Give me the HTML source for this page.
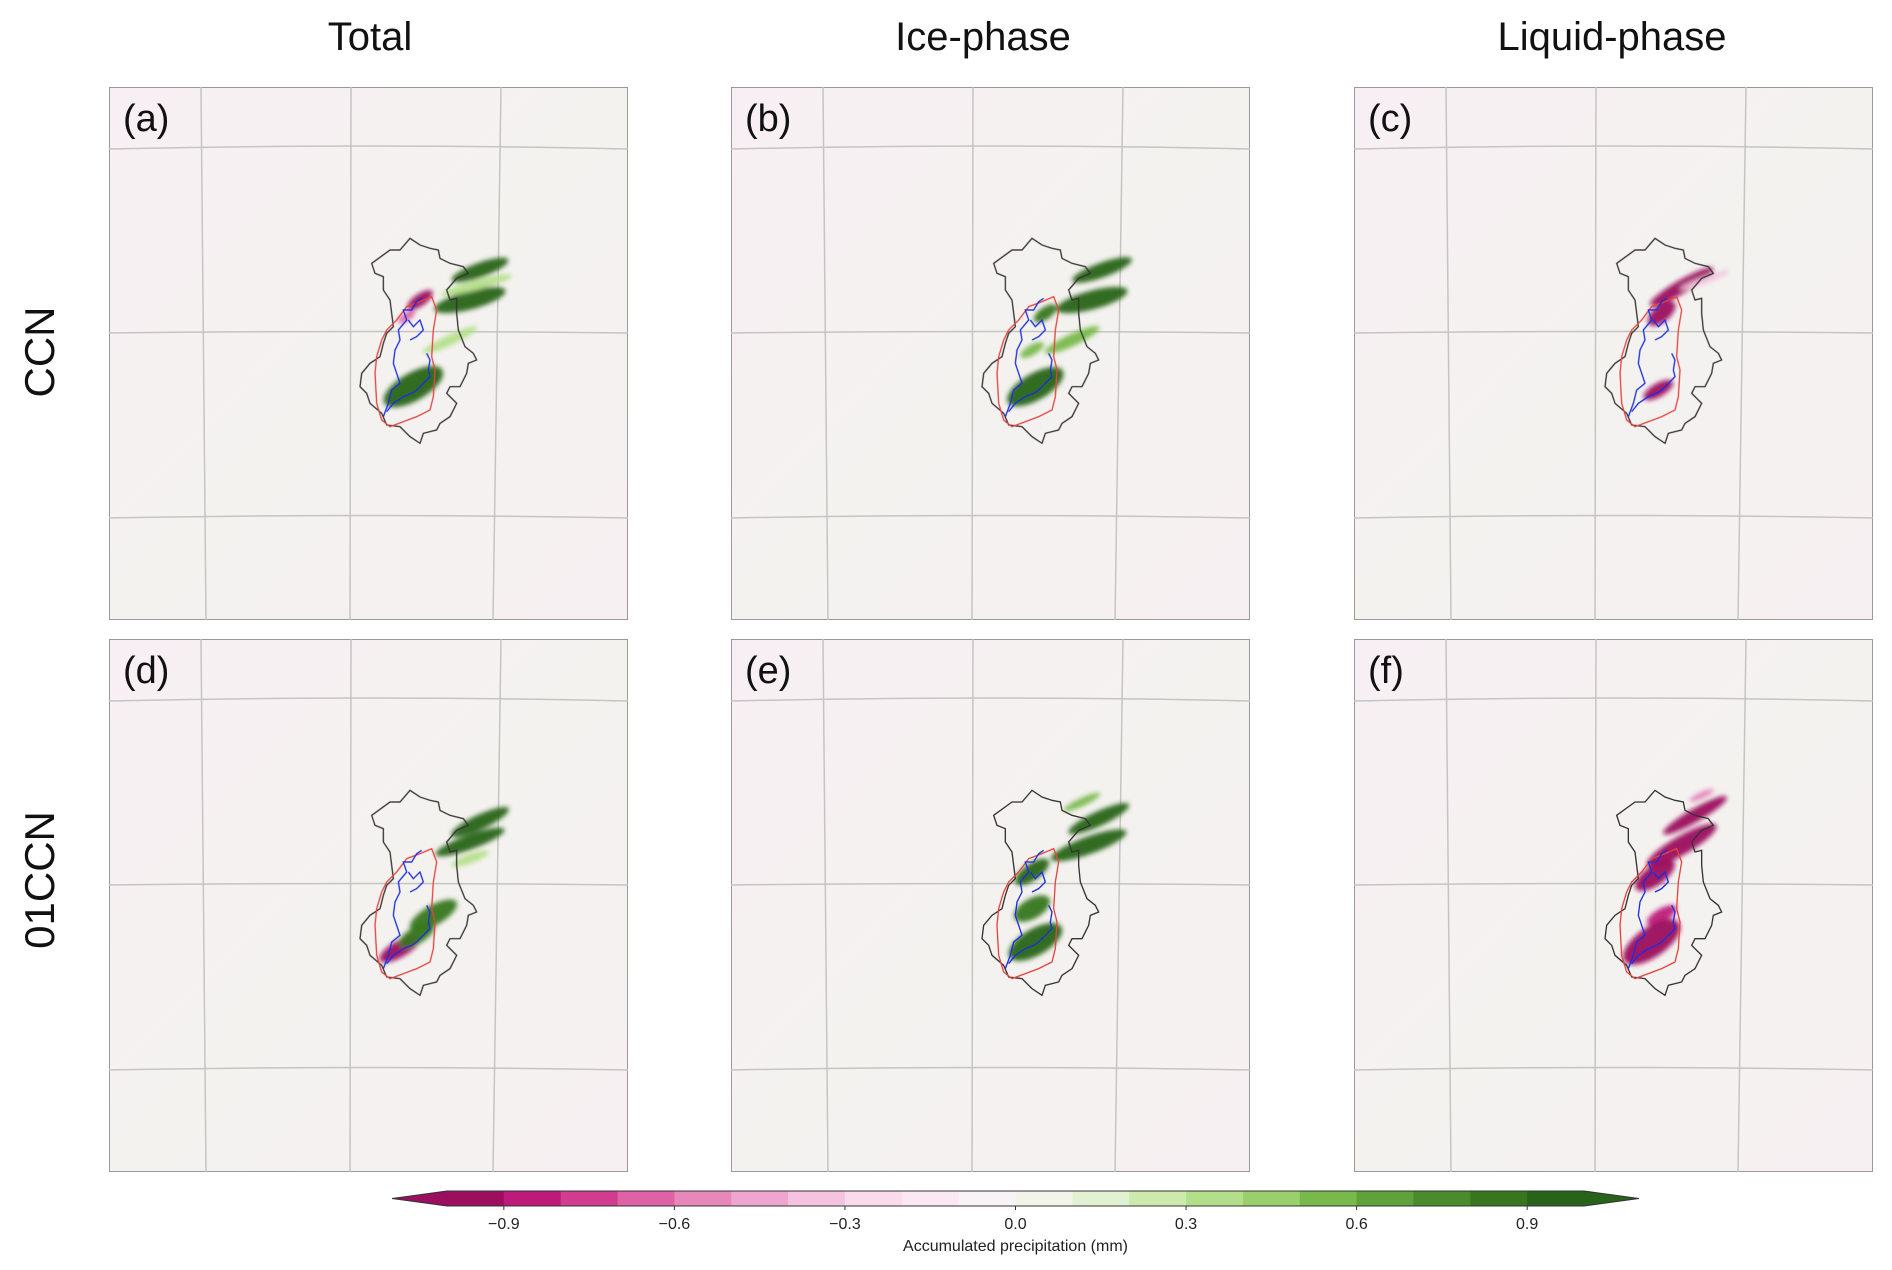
<!DOCTYPE html>
<html><head><meta charset="utf-8"><style>
body{margin:0;background:#fff;width:1892px;height:1270px;position:relative;overflow:hidden;font-family:"Liberation Sans",sans-serif}
.t{position:absolute;font-size:40px;color:#111;transform:translateX(-50%)}
.r{position:absolute;font-size:42px;color:#111;transform:translate(-50%,-50%) rotate(-90deg)}
svg{position:absolute}
</style></head><body>
<div class="t" style="left:370px;top:15px">Total</div>
<div class="t" style="left:983px;top:15px">Ice-phase</div>
<div class="t" style="left:1612px;top:15px">Liquid-phase</div>
<div class="r" style="left:40px;top:352px">CCN</div>
<div class="r" style="left:40px;top:880px">01CCN</div>
<div id="panels"></div>
<svg id="cb" width="1892" height="1270" style="left:0;top:0"></svg>
<script>
const colLefts=[109,731,1354], rowTops=[87,639];
const panelLabels=['(a)','(b)','(c)','(d)','(e)','(f)'];
const outline=[[65,100],[120,60],[150,60],[180,25],[210,45],[240,55],[265,60],[270,85],[300,100],[340,110],[355,130],[320,145],[290,180],[300,210],[320,205],[320,250],[325,300],[345,350],[370,370],[380,390],[355,400],[350,430],[330,470],[300,470],[290,490],[320,520],[300,560],[270,580],[260,600],[220,610],[210,640],[180,620],[150,590],[110,585],[95,550],[60,520],[50,490],[30,470],[35,430],[60,400],[90,380],[100,340],[110,310],[130,290],[125,250],[120,210],[100,180],[100,140],[75,130]];
const lake=[[110,300],[140,270],[170,230],[210,215],[245,200],[260,240],[250,300],[245,380],[255,420],[250,500],[240,540],[200,560],[120,590],[95,570],[80,520],[75,430],[80,380],[95,330]];
const river1=[[100,560],[115,520],[125,480],[150,460],[140,430],[130,400],[135,360],[150,330],[145,300],[170,270],[160,240],[185,240],[200,215],[215,205]];
const river2=[[230,370],[240,390],[235,420],[240,440],[220,460],[200,480],[185,490],[160,500],[130,520],[110,545]];
const river3=[[175,270],[190,290],[210,270],[220,300],[200,320],[180,330]];
// blobs: [cx,cy,rx,ry,rot,value] in zoom coords; value in mm
const blobsA=[[390,120,90,22,-20,1],[360,210,110,28,-15,1],[190,470,100,42,-30,1],[380,165,110,15,-15,0.3],[300,330,90,15,-25,0.3],[210,210,45,18,-35,-1],[170,260,30,12,-35,-0.7]];
const blobsB=[[390,120,95,22,-20,1],[360,210,110,28,-15,1],[190,470,95,40,-30,1],[300,330,90,18,-25,0.5],[220,250,40,18,-35,0.9],[180,360,40,15,-30,0.5]];
const blobsC=[[260,170,110,20,-30,-1],[200,250,50,25,-40,-0.9],[190,480,50,20,-30,-1],[330,150,80,10,-20,-0.3]];
const blobsD=[[390,120,95,22,-25,1],[360,180,110,22,-20,1],[250,400,80,30,-30,0.8],[150,500,70,25,-30,-1],[200,460,60,25,-30,0.8],[360,230,60,14,-20,0.4]];
const blobsE=[[380,110,100,22,-25,1],[350,190,120,26,-20,1],[180,270,60,25,-35,1],[190,480,90,40,-30,1],[180,380,60,30,-30,0.9],[330,60,60,12,-25,0.5]];
const blobsF=[[300,100,110,20,-30,-1],[260,190,120,28,-30,-1],[180,280,70,30,-35,-1],[200,400,50,20,-30,-0.8],[170,480,100,45,-35,-1],[320,40,40,10,-25,-0.6]];
const allBlobs=[blobsA,blobsB,blobsC,blobsD,blobsE,blobsF];
const cbVals=[-0.9,-0.6,-0.3,0.0,0.3,0.6,0.9];
const cbColors=['#9c0f5e','#bd1a7b','#d13c8f','#de62a5','#e787ba','#eea5cf','#f5c3df','#f9dbeb','#fbe8f2','#f8f3f6','#f2f4ec','#e3f1d3','#cde9ad','#b4df8a','#9bcf6e','#79b94c','#5fa13a','#4a8c2c','#37761f','#276419'];
function colorOf(v){let i=Math.floor((v+1)/0.1);i=Math.max(0,Math.min(19,i));return cbColors[i];}
function pts(a){return a.map(p=>p.join(',')).join(' ');}
const W=519,H=533;
let html='';
for(let k=0;k<6;k++){
 const x=colLefts[k%3],y=rowTops[Math.floor(k/3)];
 let s=`<svg width="${W}" height="${H}" style="left:${x}px;top:${y}px">`;
 s+=`<defs><filter id="bl${k}" x="-50%" y="-50%" width="200%" height="200%"><feGaussianBlur stdDeviation="7"/></filter><linearGradient id="bg${k}" x1="0" y1="0" x2="1" y2="1"><stop offset="0" stop-color="#f8eff4"/><stop offset="0.5" stop-color="#f4f2ef"/><stop offset="1" stop-color="#f6f0f2"/></linearGradient></defs>`;
 s+=`<rect width="${W}" height="${H}" fill="url(#bg${k})" stroke="#999" stroke-width="2"/>`;
 s+=`<g stroke="#c4c4c4" stroke-width="1.5" fill="none"><path d="M92 0 L97 ${H}"/><path d="M242 0 L241 ${H}"/><path d="M392 0 L384 ${H}"/><path d="M0 62 Q260 56 ${W} 62"/><path d="M0 246 Q260 243 ${W} 246"/><path d="M0 431 Q260 426 ${W} 431"/></g>`;
 s+=`<g transform="translate(241,143) scale(0.3333)">`;
 s+=`<g filter="url(#bl${k})">`;
 for(const b of allBlobs[k]){s+=`<ellipse cx="${b[0]}" cy="${b[1]}" rx="${b[2]}" ry="${b[3]}" transform="rotate(${b[4]} ${b[0]} ${b[1]})" fill="${colorOf(b[5])}" opacity="0.95"/>`;}
 s+=`</g>`;
 s+=`<polygon points="${pts(outline)}" fill="none" stroke="#333" stroke-width="4"/>`;
 s+=`<polygon points="${pts(lake)}" fill="none" stroke="#e4453f" stroke-width="4"/>`;
 for(const r of [river1,river2,river3])s+=`<polyline points="${pts(r)}" fill="none" stroke="#1a2ee0" stroke-width="4"/>`;
 s+=`</g>`;
 s+=`<text x="14" y="44" font-size="38" font-family="Liberation Sans, sans-serif" fill="#111">${panelLabels[k]}</text>`;
 s+=`</svg>`;
 html+=s;
}
document.getElementById('panels').innerHTML=html;
const cb=document.getElementById('cb');
const x0=447,x1=1584,yT=1191,yB=1206;
const xs=v=>x0+(v+1)/2*(x1-x0);
const bw=(x1-x0)/cbColors.length;
let c='';
cbColors.forEach((col,i)=>{c+=`<rect x="${x0+i*bw}" y="${yT}" width="${bw+0.5}" height="${yB-yT}" fill="${col}"/>`;});
c+=`<polygon points="${x0},${yT} ${x0},${yB} 392,${(yT+yB)/2}" fill="${cbColors[0]}"/>`;
c+=`<polygon points="${x1},${yT} ${x1},${yB} 1639,${(yT+yB)/2}" fill="${cbColors[19]}"/>`;
c+=`<polygon points="392,${(yT+yB)/2} ${x0},${yT} ${x1},${yT} 1639,${(yT+yB)/2} ${x1},${yB} ${x0},${yB}" fill="none" stroke="#333" stroke-width="1"/>`;
cbVals.forEach(v=>{const t=(v<0?'\u2212':'')+Math.abs(v).toFixed(1);c+=`<line x1="${xs(v)}" y1="${yB}" x2="${xs(v)}" y2="${yB+4}" stroke="#333"/><text x="${xs(v)}" y="1229" font-size="16" text-anchor="middle" fill="#222" font-family="Liberation Sans, sans-serif">${t}</text>`;});
c+=`<text x="${(x0+x1)/2}" y="1251" font-size="16" text-anchor="middle" fill="#222" font-family="Liberation Sans, sans-serif">Accumulated precipitation (mm)</text>`;
cb.innerHTML=c;
</script>
</body></html>
